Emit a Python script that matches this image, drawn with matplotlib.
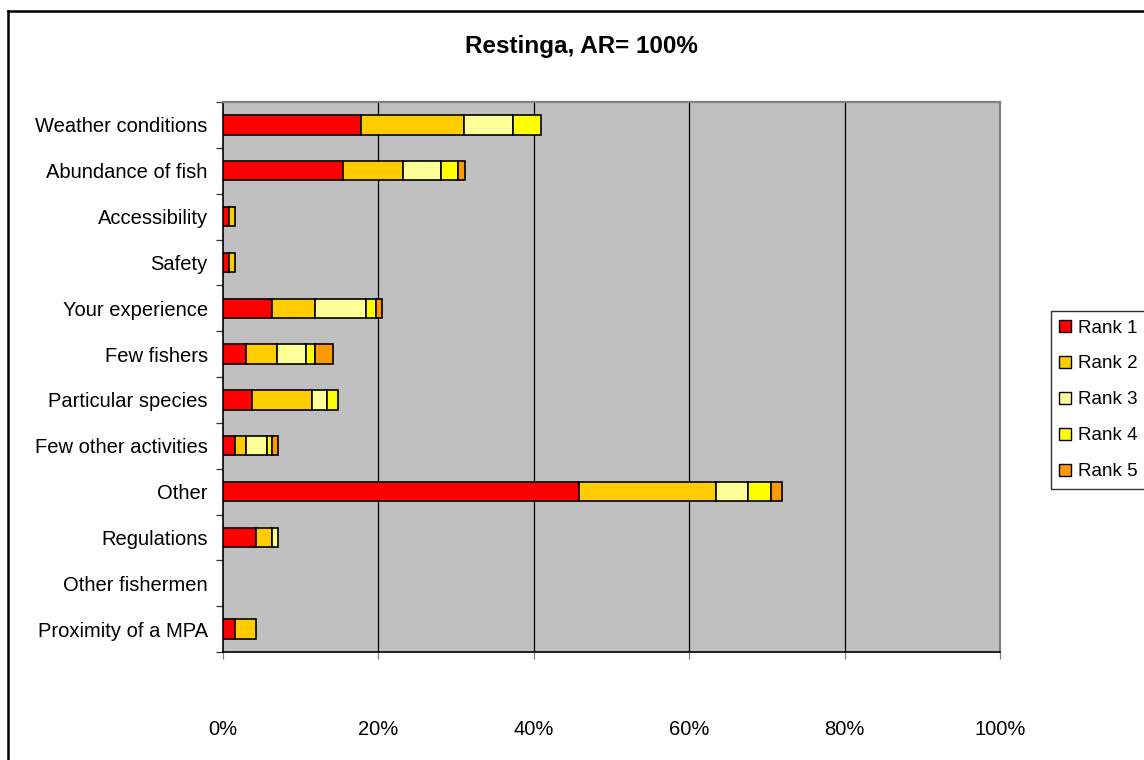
import matplotlib
matplotlib.use('Agg')
import matplotlib.pyplot as plt
from matplotlib.lines import Line2D
import numpy as np

plt.rcParams['font.family'] = ['Liberation Sans', 'DejaVu Sans']

# categories, top to bottom as shown
categories = ['Weather conditions', 'Abundance of fish', 'Accessibility', 'Safety',
              'Your experience', 'Few fishers', 'Particular species',
              'Few other activities', 'Other', 'Regulations', 'Other fishermen',
              'Proximity of a MPA']

# percentage of answers per rank
rank1 = [17.8, 15.5, 0.75, 0.75, 6.3, 2.9, 3.7, 1.5, 45.8, 4.2, 0.0, 1.5]
rank2 = [13.2, 7.7, 0.75, 0.75, 5.6, 4.1, 7.7, 1.4, 17.6, 2.1, 0.0, 2.7]
rank3 = [6.3, 4.9, 0.0, 0.0, 6.5, 3.7, 2.0, 2.7, 4.2, 0.8, 0.0, 0.0]
rank4 = [3.6, 2.2, 0.0, 0.0, 1.3, 1.2, 1.4, 0.7, 2.9, 0.0, 0.0, 0.0]
rank5 = [0.0, 0.8, 0.0, 0.0, 0.7, 2.2, 0.0, 0.8, 1.5, 0.0, 0.0, 0.0]

series = [rank1, rank2, rank3, rank4, rank5]
series_names = ['Rank 1', 'Rank 2', 'Rank 3', 'Rank 4', 'Rank 5']
colors = ['#FF0000', '#FFCC00', '#FFFF99', '#FFFF00', '#FF9900']
x_ticks = [0, 20, 40, 60, 80, 100]

W, H = 1144, 760
fig = plt.figure(figsize=(W / 100, H / 100), dpi=100)
fig.patch.set_facecolor('white')

ax = fig.add_axes([223 / W, 1 - 652 / H, (1000 - 223) / W, (652 - 102) / H])
ax.set_facecolor('#C0C0C0')

n = len(categories)
ypos = np.arange(n)
left = np.zeros(n)
handles = []
for vals, name, col in zip(series, series_names, colors):
    vals = np.array(vals)
    mask = vals > 0
    ax.barh(ypos[mask], vals[mask], left=left[mask], height=0.42, color=col,
            edgecolor='black', linewidth=1.2, zorder=3)
    left = left + vals
    handles.append(Line2D([], [], marker='s', linestyle='none', markersize=9,
                          markerfacecolor=col, markeredgecolor='black',
                          markeredgewidth=1.0, label=name))

ax.set_xlim(0, 100)
ax.set_ylim(n - 0.5, -0.5)

for g in x_ticks[1:-1]:
    ax.axvline(g, color='black', linewidth=0.9, zorder=1)

ax.set_xticks(x_ticks)
ax.set_xticklabels(['%d%%' % t for t in x_ticks], fontsize=14.5)
ax.tick_params(axis='x', direction='out', length=5, width=0.9, pad=44, color='#808080')

ax.set_yticks(ypos)
ax.set_yticklabels(categories, fontsize=14.5)
ax.tick_params(axis='y', which='major', length=0, pad=11)
ax.set_yticks(np.arange(-0.5, n, 1.0), minor=True)
ax.tick_params(axis='y', which='minor', direction='out', length=5, width=0.9, color='#333333')

for s in ['top', 'right']:
    ax.spines[s].set_color('#808080')
    ax.spines[s].set_linewidth(1.6)
for s in ['left', 'bottom']:
    ax.spines[s].set_color('black')
    ax.spines[s].set_linewidth(1.2)

fig.text(581 / W, 1 - 46 / H, 'Restinga, AR= 100%', ha='center', va='center',
         fontsize=17.5, fontweight='bold')

leg = fig.legend(handles=handles, loc='upper left',
                 bbox_to_anchor=(1051 / W, 1 - 311 / H), fontsize=13.5,
                 frameon=True, fancybox=False, borderaxespad=0, handlelength=0.6,
                 handletextpad=0.4, labelspacing=1.0, borderpad=0.45)
leg.get_frame().set_edgecolor('black')
leg.get_frame().set_linewidth(1.0)

# outer chart border (cut off at right and bottom)
fig.add_artist(Line2D([8 / W, 8 / W], [0, 1 - 11 / H], color='black', linewidth=1.8,
                      transform=fig.transFigure))
fig.add_artist(Line2D([8 / W, 1], [1 - 11 / H, 1 - 11 / H], color='black', linewidth=1.8,
                      transform=fig.transFigure))

fig.savefig('out.png', dpi=100)
